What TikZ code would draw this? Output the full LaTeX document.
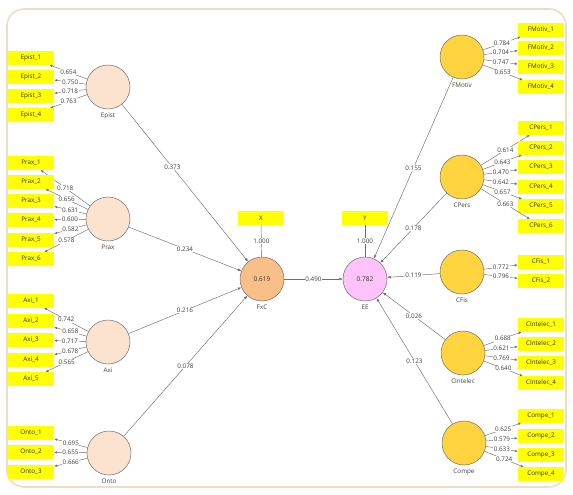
\documentclass[tikz,border=0pt]{standalone}
\usepackage{fontspec}
\setmainfont{Open Sans}
\usetikzlibrary{arrows.meta}
\definecolor{IndYellow}{HTML}{FFFF00}
\definecolor{ExoFill}{HTML}{FCE3D0}
\definecolor{FxCFill}{HTML}{F9BF88}
\definecolor{EEFill}{HTML}{FFC2FA}
\definecolor{EndoFill}{HTML}{FFD43E}
\definecolor{LineGray}{HTML}{6E6E6E}
\definecolor{FrameTan}{HTML}{F0DCC2}

\tikzset{
  ind/.style={rectangle, fill=IndYellow, minimum width=46pt, minimum height=13.5pt,
    inner sep=0pt, font=\fontsize{6.3}{7}\selectfont, text=black!80},
  lv/.style={circle, draw=LineGray, line width=0.5pt, minimum size=44pt, inner sep=0pt,
    font=\fontsize{6.5}{7}\selectfont, text=black!80,
    label distance=2pt, label={[font=\fontsize{6.3}{7}\selectfont, text=black!75]below:#1}},
  load/.style={draw=LineGray, line width=0.45pt, -{Latex[length=3pt,width=2.4pt]}},
  path/.style={draw=LineGray, line width=0.45pt, -{Latex[length=3.5pt,width=2.8pt]}},
  coef/.style={fill=white, inner sep=0.6pt, font=\fontsize{6.3}{7}\selectfont, text=black!75}
}

\begin{document}
\begin{tikzpicture}[x=1pt, y=-1pt]
  \useasboundingbox (0,0) rectangle (573,495);
  % Moldura
  \draw[FrameTan, line width=1.6pt, rounded corners=17pt] (7,9) rectangle (566,487);

  % Construtos centrais
  \node[lv=FxC, fill=FxCFill] (FxC) at (262,279) {0.619};
  \node[lv=EE, fill=EEFill] (EE) at (365,279) {0.782};
  \node[ind] (X) at (261,218) {X};
  \node[ind] (Y) at (365,218) {Y};
  \draw[LineGray, line width=0.45pt] (X) -- node[coef] {1.000} (FxC);
  \draw[LineGray, line width=0.45pt] (Y) -- node[coef] {1.000} (EE);
  \draw[path] (FxC) -- node[coef] {0.490} (EE);

  % Construtos exogenos
  \node[lv=Epist, fill=ExoFill] (Epist) at (108,87) {};
  \node[lv=Prax, fill=ExoFill] (Prax) at (108,219) {};
  \node[lv=Axi, fill=ExoFill] (Axi) at (108,342) {};
  \node[lv=Onto, fill=ExoFill] (Onto) at (109,453) {};

  \foreach \i/\y/\v in {1/58/0.654, 2/77/0.750, 3/96/0.718, 4/115/0.763} {
    \node[ind] (Epist\i) at (31,\y) {Epist\_\i};
    \draw[load] (Epist) -- node[coef] {\v} (Epist\i);
  }
  \foreach \i/\y/\v in {1/163/0.718, 2/182/0.656, 3/201/0.631, 4/220/0.600, 5/240/0.582, 6/259/0.578} {
    \node[ind] (Prax\i) at (31,\y) {Prax\_\i};
    \draw[load] (Prax) -- node[coef] {\v} (Prax\i);
  }
  \foreach \i/\y/\v in {1/301/0.742, 2/321/0.658, 3/340/0.717, 4/360/0.678, 5/379/0.565} {
    \node[ind] (Axi\i) at (31,\y) {Axi\_\i};
    \draw[load] (Axi) -- node[coef] {\v} (Axi\i);
  }
  \foreach \i/\y/\v in {1/433/0.695, 2/452/0.655, 3/472/0.666} {
    \node[ind] (Onto\i) at (31,\y) {Onto\_\i};
    \draw[load] (Onto) -- node[coef] {\v} (Onto\i);
  }

  % Construtos do lado direito
  \node[lv=FMotiv, fill=EndoFill] (FMotiv) at (462,57) {};
  \node[lv=CPers, fill=EndoFill] (CPers) at (462,177) {};
  \node[lv=CFis, fill=EndoFill] (CFis) at (462,272) {};
  \node[lv=CIntelec, fill=EndoFill] (CIntelec) at (463,353) {};
  \node[lv=Compe, fill=EndoFill] (Compe) at (464,443) {};

  \foreach \i/\y/\v in {1/30/0.784, 2/48/0.704, 3/67/0.747, 4/87/0.653} {
    \node[ind] (FMotiv\i) at (541,\y) {FMotiv\_\i};
    \draw[load] (FMotiv) -- node[coef] {\v} (FMotiv\i);
  }
  \foreach \i/\y/\v in {1/128/0.614, 2/148/0.643, 3/167/0.470, 4/187/0.642, 5/206/0.657, 6/226/0.663} {
    \node[ind] (CPers\i) at (541,\y) {CPers\_\i};
    \draw[load] (CPers) -- node[coef] {\v} (CPers\i);
  }
  \foreach \i/\y/\v in {1/262/0.772, 2/281/0.796} {
    \node[ind] (CFis\i) at (541,\y) {CFis\_\i};
    \draw[load] (CFis) -- node[coef] {\v} (CFis\i);
  }
  \foreach \i/\y/\v in {1/325/0.688, 2/344/0.621, 3/363/0.769, 4/383/0.640} {
    \node[ind] (CIntelec\i) at (541,\y) {CIntelec\_\i};
    \draw[load] (CIntelec) -- node[coef] {\v} (CIntelec\i);
  }
  \foreach \i/\y/\v in {1/416/0.625, 2/436/0.579, 3/455/0.633, 4/474/0.724} {
    \node[ind] (Compe\i) at (541,\y) {Compe\_\i};
    \draw[load] (Compe) -- node[coef] {\v} (Compe\i);
  }

  % Caminhos estruturais
  \draw[path] (Epist) -- node[coef, pos=0.4] {0.373} (FxC);
  \foreach \c/\v in {Prax/0.234, Axi/0.216, Onto/0.078}
    \draw[path] (\c) -- node[coef] {\v} (FxC);
  \foreach \c/\v in {FMotiv/0.155, CPers/0.178, CFis/0.119, CIntelec/0.026, Compe/0.123}
    \draw[path] (\c) -- node[coef] {\v} (EE);
\end{tikzpicture}
\end{document}
